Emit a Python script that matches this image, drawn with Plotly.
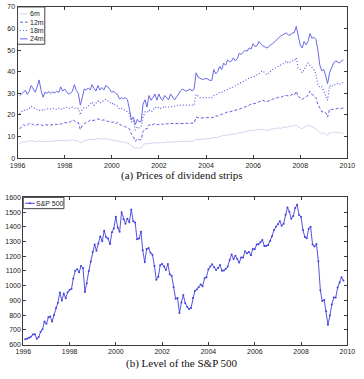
import pandas as pd
import plotly.graph_objects as go

# ---------------- data (monthly, Jan 1996 - Oct 2009) ----------------
strip_labels = ["6m", "12m", "18m", "24m"]

strip_6m = [
    6.8, 7, 7.5, 7.7, 7.5, 7.8, 8.2, 7.8, 7.5, 7.7, 8, 7.8,
    7.5, 7.7, 7.6, 7.8, 7.7, 7.9, 8, 7.8, 8, 8.2, 8, 8.2,
    8, 8.1, 8.3, 8.5, 8.2, 8, 8, 7, 7.6, 8, 8.3, 8.5,
    8.6, 8.8, 8.6, 9, 9.2, 8.8, 9, 8.8, 9, 8.8, 8.6, 8.5,
    8.4, 8.2, 8, 7.8, 7.7, 7.5, 7.3, 7, 6.5, 5.5, 5, 4.5,
    4.8, 4.6, 4.7, 6, 6.8, 6.5, 7, 6.8, 7, 7.2, 7, 7.2,
    7.3, 7, 7.4, 7.5, 7.3, 7.5, 7.6, 7.5, 7.7, 7.6, 7.7, 7.7,
    7.5, 7.6, 7.8, 7.7, 7.8, 7.9, 8.8, 8.5, 8.6, 8.5, 8.7, 8.8,
    9, 8.9, 9.2, 9.5, 9.4, 9.6, 10, 10.2, 10.5, 10.3, 10.8, 10.7,
    11, 11.2, 11, 11.5, 11.8, 12, 11.8, 12.3, 12.5, 12.7, 12.6, 13,
    12.8, 13.2, 13.5, 13, 13.3, 13, 12.6, 13, 13.4, 13.6, 13.5, 13.8,
    14, 13.7, 14.2, 14.5, 14.3, 14.5, 14.8, 15, 14.7, 15.5, 14.5, 14,
    13.6, 14.3, 14.8, 15.3, 15, 14.6, 14.2, 13.5, 12.5, 11.8, 11.2, 12,
    11, 10.5, 12, 11.5, 12.3, 11.8, 12, 11.5, 11.8, 11.4,
]

strip_12m = [
    13.5, 14.5, 15.5, 15, 15.3, 16, 16, 15.5, 15, 15.5, 15.5, 15.5,
    15, 15.5, 15.3, 15.5, 15.3, 15.5, 15.7, 15.5, 16, 15.7, 16, 16.5,
    16.3, 16.5, 16.8, 17.7, 17.3, 16.5, 16.5, 13.2, 15, 16, 16.3, 16.8,
    17.7, 17.3, 17.5, 18, 18.2, 17.8, 17.5, 17.7, 17.2, 17, 16.8, 16.5,
    16.8, 16, 16.5, 15.5, 15.3, 15, 14.5, 14, 13.6, 11, 10, 7.7,
    9, 8.5, 8.5, 12.3, 13.6, 13.5, 15.5, 15, 15.5, 16, 15.5, 15.5,
    16, 15.5, 16, 15.8, 16, 16, 15.8, 16, 16, 15.8, 16, 16,
    16, 16.2, 16, 16.2, 16.3, 16.2, 19, 18.6, 18.5, 18.6, 18.5, 18.6,
    18.8, 18.6, 18.7, 19, 19.5, 19.5, 20, 20.3, 20.5, 21, 21.4, 21.4,
    21.6, 21.8, 22, 22.3, 22.7, 23, 23.3, 23.6, 24, 24.5, 25, 25,
    25.3, 25.6, 26, 26.5, 26.8, 26.3, 26, 26.5, 27, 27.3, 27.5, 27.8,
    28.2, 28, 28.5, 29, 29, 28.8, 29, 29.5, 29, 31, 28.5, 28,
    27, 28, 28.5, 29, 31, 29.5, 29, 28, 25, 22.7, 21.4, 21.5,
    21, 19, 22.7, 22.5, 22.5, 22.7, 23, 22.8, 23, 23.2,
]

strip_18m = [
    20.5, 21.5, 22.3, 22, 22.5, 23, 24, 23.5, 23, 22.5, 22, 22.5,
    22, 22.5, 22.5, 23, 22.7, 23, 22.8, 22.5, 23, 22.7, 22.5, 23.6,
    23.5, 23, 23.2, 23.6, 23.2, 23, 23, 20, 22.5, 23.5, 23.3, 24,
    25, 26, 24.5, 25.5, 26.4, 25.5, 26, 26.5, 27.2, 26.5, 26, 25,
    25.5, 24.5, 24, 22.7, 23, 22.5, 22, 21.5, 20.5, 16.8, 17.5, 13,
    14.5, 14, 14.5, 19, 21.4, 21, 22.3, 21.5, 22, 23.6, 23, 23.6,
    23, 23.5, 24, 23.5, 23.6, 24, 23.8, 24, 24.5, 24.3, 24.5, 24.5,
    24.3, 24.5, 24.5, 24.3, 24.5, 24.5, 29.5, 28.5, 28, 28, 28, 28,
    28.2, 28, 28, 29, 29.5, 29.5, 30.5, 30.5, 31, 31.5, 32, 32.3,
    32.5, 33, 33.5, 34, 34.5, 35, 35.5, 36, 36.5, 37, 37.3, 37.5,
    38, 38.5, 39, 40, 40.4, 39.5, 38.6, 39.5, 40.4, 41, 41.5, 42,
    42.7, 43, 43.5, 44, 45, 44, 44.5, 45, 45, 46.4, 41.8, 41,
    39.5, 41, 42, 44, 43, 42, 41, 39, 34, 32.7, 33, 31,
    29, 26.8, 33.6, 33, 34, 34, 34.5, 34, 35, 35,
]

strip_24m = [
    28.8, 29.5, 30.5, 31.4, 29.5, 31, 33.6, 32, 30.5, 33, 36.2, 31.3,
    28.2, 30.5, 30, 30.8, 30, 30.6, 30.2, 31, 30.4, 33, 31, 32,
    30.5, 29.6, 30, 31, 34, 31.3, 30, 24.5, 28, 32, 31.5, 32.5,
    31.5, 34, 32.3, 31, 33.6, 31.5, 32.7, 31.5, 33.6, 33, 31.8, 30.5,
    31, 30, 29.5, 27.3, 28, 27.5, 28, 27, 22.7, 17.7, 19, 15.5,
    18, 16.8, 17, 25, 27, 23.6, 29, 26.8, 28, 29.7, 26.8, 29.7,
    27.5, 26.8, 29, 28, 27, 29.7, 28.5, 27, 28.2, 30, 31, 32,
    31.5, 31, 31.5, 32, 31, 32, 39.5, 37.5, 37, 36.5, 36.5, 37,
    36.5, 36, 36, 41, 39, 40, 42.5, 41, 44, 43, 45.5, 44.5,
    45, 46.4, 45, 46, 48.6, 48, 49, 50, 49.5, 51, 50.5, 53,
    51.6, 52, 54, 53, 52, 51.5, 51, 51.5, 52.5, 53, 54, 55,
    56, 56.5, 57, 57.7, 58, 57, 57, 58, 58, 61, 56, 52.4,
    51, 54, 52.5, 54, 57.7, 55.5, 56, 55, 50, 43, 40.4, 41,
    38, 34.5, 39.5, 42, 44, 45, 44.5, 44, 45, 45.5,
]

sp500_label = "S&P 500"
sp500 = [
    636, 640, 646, 654, 669, 671, 640, 652, 687, 705, 757, 741,
    786, 791, 757, 801, 848, 885, 954, 899, 947, 915, 955, 970,
    980, 1049, 1102, 1112, 1091, 1134, 1121, 957, 1017, 1099, 1164, 1229,
    1280, 1238, 1286, 1335, 1302, 1373, 1329, 1320, 1283, 1363, 1389, 1469,
    1394, 1366, 1499, 1452, 1421, 1455, 1431, 1518, 1437, 1429, 1315, 1320,
    1366, 1240, 1160, 1249, 1256, 1224, 1211, 1134, 1041, 1060, 1139, 1148,
    1130, 1107, 1147, 1077, 1067, 990, 912, 916, 815, 886, 936, 880,
    856, 841, 848, 917, 964, 975, 990, 1008, 996, 1051, 1058, 1112,
    1131, 1145, 1126, 1107, 1121, 1141, 1102, 1104, 1115, 1130, 1174, 1212,
    1181, 1204, 1181, 1157, 1192, 1191, 1234, 1220, 1229, 1207, 1249, 1248,
    1280, 1281, 1295, 1311, 1270, 1270, 1277, 1304, 1336, 1378, 1401, 1418,
    1438, 1407, 1421, 1482, 1531, 1503, 1455, 1474, 1527, 1549, 1481, 1468,
    1379, 1331, 1323, 1386, 1400, 1280, 1267, 1283, 1166, 969, 896, 903,
    826, 735, 798, 873, 919, 919, 987, 1021, 1057, 1036,
]

dates = pd.date_range(start="1996-01-01", periods=len(sp500), freq="MS") + pd.offsets.MonthEnd(0)

caption_a = "(a) Prices of dividend strips"
caption_b = "(b) Level of the S&amp;P 500"

# ---------------- styling ----------------
W, H = 364, 379
def px(x):
    return x / W
def py(y):
    return 1 - y / H

strip_styles = {
    "6m": dict(color="rgb(212,212,242)", dash="solid", width=1),
    "12m": dict(color="rgb(95,95,225)", dash="3px,2px", width=1),
    "18m": dict(color="rgb(95,95,225)", dash="1px,2px", width=1.2),
    "24m": dict(color="rgb(105,105,230)", dash="solid", width=1),
}
sp_color = "rgb(65,65,222)"

fig = go.Figure()
for lab, vals in zip(strip_labels, [strip_6m, strip_12m, strip_18m, strip_24m]):
    fig.add_trace(go.Scatter(x=dates, y=vals, mode="lines", name=lab,
                             line=strip_styles[lab], xaxis="x", yaxis="y",
                             showlegend=False))
fig.add_trace(go.Scatter(x=dates, y=sp500, mode="lines+markers", name=sp500_label,
                         line=dict(color=sp_color, width=0.9),
                         marker=dict(color=sp_color, size=2),
                         xaxis="x2", yaxis="y2", showlegend=False))

axis_common = dict(showline=True, mirror="ticks", ticks="inside", ticklen=3,
                   tickwidth=0.8, linecolor="#3a3a3a", tickcolor="#3a3a3a",
                   linewidth=1, showgrid=False, zeroline=False,
                   tickfont=dict(family="Liberation Sans", size=7, color="#222"))
xdate = dict(range=["1996-01-01", "2010-01-01"], tick0="1996-01-01",
             dtick="M24", tickformat="%Y")

fig.update_layout(
    width=W, height=H, margin=dict(l=0, r=0, t=0, b=0),
    paper_bgcolor="white", plot_bgcolor="white",
    xaxis=dict(domain=[px(10), px(355)], anchor="y", **xdate, **axis_common),
    yaxis=dict(domain=[py(157), py(3)], anchor="x", range=[0, 70], dtick=10, **axis_common),
    xaxis2=dict(domain=[px(16), px(355)], anchor="y2", **xdate, **axis_common),
    yaxis2=dict(domain=[py(347), py(197)], anchor="x2", range=[600, 1600], dtick=100, **axis_common),
)

# captions
fig.add_annotation(text=caption_a, xref="paper", yref="paper", x=0.5, y=py(175),
                   xanchor="center", yanchor="middle", showarrow=False,
                   font=dict(family="Liberation Serif", size=11, color="#111"))
fig.add_annotation(text=caption_b, xref="paper", yref="paper", x=0.5, y=py(366),
                   xanchor="center", yanchor="middle", showarrow=False,
                   font=dict(family="Liberation Serif", size=11, color="#111"))

# legend (a)
fig.add_shape(type="rect", xref="paper", yref="paper", x0=px(10), x1=px(38.5), y0=py(41), y1=py(3),
              line=dict(color="#444", width=1), fillcolor="white", layer="above")
rows = [10, 18.5, 27, 35.5]
for lab, ry in zip(strip_labels, rows):
    st = strip_styles[lab]
    fig.add_shape(type="line", xref="paper", yref="paper", x0=px(12.5), x1=px(20.5), y0=py(ry), y1=py(ry),
                  line=dict(color=st["color"], dash=st["dash"], width=st["width"]), layer="above")
    fig.add_annotation(text=lab, xref="paper", yref="paper", x=px(21.5), y=py(ry), xanchor="left",
                       yanchor="middle", align="left", showarrow=False, borderpad=0,
                       font=dict(family="Liberation Sans", size=7, color="#222"))

# legend (b)
fig.add_shape(type="rect", xref="paper", yref="paper", x0=px(16), x1=px(58.5), y0=py(208.5), y1=py(197),
              line=dict(color="#444", width=1), fillcolor="white", layer="above")
fig.add_shape(type="line", xref="paper", yref="paper", x0=px(18), x1=px(28), y0=py(203), y1=py(203),
              line=dict(color=sp_color, width=1), layer="above")
fig.add_shape(type="circle", xref="paper", yref="paper", x0=px(22.2), x1=px(23.8), y0=py(203.8), y1=py(202.2),
              line=dict(color=sp_color, width=0.5), fillcolor=sp_color, layer="above")
fig.add_annotation(text="S&amp;P 500", xref="paper", yref="paper", x=px(28.5), y=py(203), xanchor="left",
                   yanchor="middle", align="left", showarrow=False, borderpad=0,
                   font=dict(family="Liberation Sans", size=7, color="#222"))

fig.write_html("out.html")
